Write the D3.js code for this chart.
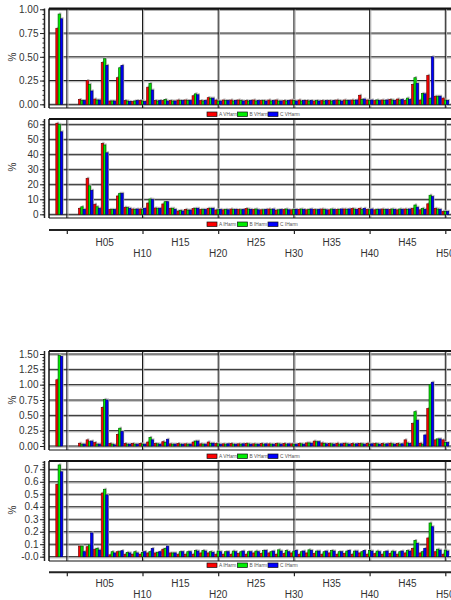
<!DOCTYPE html>
<html><head><meta charset="utf-8">
<script src="https://cdn.jsdelivr.net/npm/d3@7"></script>
<style>body{margin:0;background:#fff} svg{display:block;font-family:"Liberation Sans",Arial,sans-serif}</style>
</head><body><svg id="c" width="451" height="600"></svg>
<script>
// ---------- DATA ----------
const categories = ["THD","H02","H03","H04","H05","H06","H07","H08","H09","H10",
"H11","H12","H13","H14","H15","H16","H17","H18","H19","H20",
"H21","H22","H23","H24","H25","H26","H27","H28","H29","H30",
"H31","H32","H33","H34","H35","H36","H37","H38","H39","H40",
"H41","H42","H43","H44","H45","H46","H47","H48","H49","H50"];

const vHarmA1 = [0.80,0.05,0.25,0.055,0.44,0.035,0.28,0.04,0.03,0.04,
0.18,0.04,0.04,0.04,0.045,0.045,0.09,0.04,0.07,0.045,
0.045,0.045,0.045,0.04,0.045,0.04,0.045,0.045,0.04,0.045,
0.045,0.04,0.035,0.04,0.04,0.045,0.045,0.045,0.095,0.045,
0.04,0.045,0.05,0.055,0.04,0.21,0.045,0.305,0.085,0.065];
const vHarmB1 = [0.95,0.04,0.21,0.045,0.48,0.035,0.385,0.035,0.035,0.035,
0.22,0.035,0.05,0.035,0.04,0.04,0.11,0.035,0.065,0.035,
0.04,0.035,0.04,0.035,0.035,0.04,0.035,0.035,0.035,0.04,
0.035,0.035,0.04,0.035,0.035,0.04,0.04,0.04,0.05,0.04,
0.045,0.04,0.045,0.045,0.065,0.28,0.115,0.06,0.085,0.045];
const vHarmC1 = [0.90,0.04,0.14,0.045,0.41,0.035,0.41,0.03,0.04,0.03,
0.15,0.04,0.035,0.035,0.04,0.04,0.10,0.04,0.065,0.035,
0.04,0.04,0.035,0.04,0.04,0.035,0.04,0.035,0.04,0.035,
0.04,0.04,0.035,0.04,0.04,0.035,0.04,0.045,0.055,0.045,
0.04,0.045,0.04,0.05,0.05,0.22,0.11,0.50,0.085,0.04];

const iHarmA1 = [60.7,4,24,6.7,47.3,3.3,12.2,4.7,3.5,3.5,
7.5,4.2,6.9,4,2.2,3.3,3.8,3.3,4,2.9,
3,3.5,3.2,3.8,3.3,3,3.5,2.8,3.2,3,
3.3,3,3.2,3.5,3,3.3,3.5,3.8,4,3.3,
3,3.5,3.3,3,3.5,4,3,7,4,2];
const iHarmB1 = [60,5,19,5,46.2,3.3,14,4.5,3.3,3.3,
10.2,4,8.4,4,2.6,2.8,4,3.3,4,3,
3.3,3.2,3,3.5,3.5,3,3.2,3,3.5,3.2,
3.5,3.3,3,3.3,3.5,3.2,3.3,3.5,3.3,3,
3.3,3.2,3.5,3.5,3.3,6.2,4,12.7,3.5,2];
const iHarmC1 = [55,3.3,16,4,41,3.3,14,4,3.5,4,
10,4,8.4,3.3,2.2,2.8,4,3.3,4,3.3,
3,3.3,3.2,3.3,3,3.3,3.5,3.2,3,3.3,
3.2,3.5,3.3,3,3.3,3.5,3.5,3.3,4,3.5,
3.2,3.3,3.3,3.3,3.5,4.7,3.3,11.8,3.3,2];

const vHarmA2 = [1.08,0.045,0.10,0.055,0.63,0.04,0.19,0.04,0.04,0.04,
0.065,0.04,0.07,0.035,0.04,0.035,0.065,0.035,0.065,0.04,
0.035,0.04,0.035,0.04,0.035,0.04,0.035,0.04,0.04,0.035,
0.04,0.05,0.08,0.05,0.04,0.045,0.045,0.04,0.04,0.045,
0.04,0.04,0.045,0.04,0.10,0.37,0.045,0.61,0.10,0.10];
const vHarmB2 = [1.48,0.03,0.07,0.03,0.76,0.03,0.29,0.03,0.03,0.03,
0.14,0.035,0.055,0.03,0.03,0.03,0.08,0.03,0.045,0.035,
0.03,0.03,0.03,0.035,0.03,0.03,0.03,0.035,0.03,0.03,
0.035,0.05,0.07,0.04,0.035,0.03,0.035,0.03,0.035,0.03,
0.035,0.03,0.035,0.03,0.05,0.56,0.03,1.00,0.115,0.055];
const vHarmC2 = [1.46,0.03,0.08,0.03,0.75,0.02,0.235,0.03,0.03,0.03,
0.10,0.03,0.11,0.03,0.03,0.03,0.08,0.03,0.045,0.03,
0.035,0.03,0.035,0.03,0.03,0.035,0.03,0.03,0.035,0.03,
0.03,0.045,0.07,0.035,0.03,0.035,0.03,0.035,0.03,0.035,
0.03,0.035,0.03,0.035,0.04,0.42,0.18,1.04,0.115,0.055];

const iHarmA2 = [0.58,0.085,0.08,0.06,0.51,0.015,0.04,0.02,0.02,0.02,
0.03,0.03,0.06,0.03,0.02,0.02,0.02,0.03,0.03,0.02,
0.02,0.02,0.025,0.02,0.03,0.025,0.03,0.02,0.025,0.03,
0.02,0.03,0.025,0.02,0.03,0.02,0.025,0.02,0.03,0.02,
0.025,0.02,0.025,0.02,0.03,0.067,0.03,0.15,0.04,0.02];
const iHarmB2 = [0.735,0.085,0.095,0.067,0.54,0.04,0.04,0.035,0.04,0.035,
0.04,0.035,0.065,0.03,0.04,0.04,0.05,0.05,0.04,0.045,
0.04,0.045,0.04,0.04,0.045,0.05,0.04,0.055,0.05,0.045,
0.04,0.055,0.045,0.04,0.05,0.04,0.045,0.045,0.04,0.05,
0.045,0.04,0.045,0.04,0.05,0.13,0.04,0.27,0.06,0.053];
const iHarmC2 = [0.68,0.04,0.19,0.053,0.495,0.03,0.048,0.03,0.03,0.04,
0.066,0.04,0.085,0.03,0.04,0.04,0.045,0.045,0.035,0.04,
0.04,0.04,0.045,0.04,0.04,0.05,0.045,0.045,0.04,0.05,
0.045,0.05,0.045,0.045,0.045,0.04,0.05,0.045,0.05,0.045,
0.04,0.045,0.04,0.045,0.045,0.107,0.067,0.24,0.053,0.045];

const vLegend = ["A VHarm","B VHarm","C VHarm"];
const iLegend = ["A IHarm","B IHarm","C IHarm"];
const ticksV1 = [0,0.25,0.5,0.75,1.0];
const ticksI1 = [0,10,20,30,40,50,60];
const ticksV2 = [0,0.25,0.5,0.75,1.0,1.25,1.5];
const ticksI2 = [0,0.1,0.2,0.3,0.4,0.5,0.6,0.7];
const xTickHarm = [0,10,20,30,40,50];
const xLabelsRow1 = ["H05","H15","H25","H35","H45"];
const xLabelsRow2 = ["H10","H20","H30","H40","H50"];

// ---------- LAYOUT ----------
const svg = d3.select("#c");
const plotLeft = 49, plotRight = 451;
const x = d3.scaleLinear().domain([0, 50]).range([66.8, 445.3]);
const slot = c => c === "THD" ? -1 : +c.slice(1);
const phase = d3.scaleBand().domain([0,1,2]).range([-3.4, 3.4]).padding(0);
const fills = ["#ff0000","#00ee00","#0000ff"];
const strokes = ["#7a0000","#006000","#00007a"];

const panels = [
  {vals:[vHarmA1,vHarmB1,vHarmC1], legend:vLegend, top:8.5, bottom:108, y0:104.3, yT:9.3, tMax:1.0, ticks:ticksV1, fmt:d3.format(".2f"), minor:0.05, legY:114, labY:57},
  {vals:[iHarmA1,iHarmB1,iHarmC1], legend:iLegend, top:119, bottom:218, y0:214.3, yT:124.3, tMax:60, ticks:ticksI1, fmt:d3.format("d"), minor:2, legY:224, labY:167},
  {vals:[vHarmA2,vHarmB2,vHarmC2], legend:vLegend, top:351, bottom:450, y0:446, yT:354, tMax:1.5, ticks:ticksV2, fmt:d3.format(".2f"), minor:0.05, legY:456, labY:400},
  {vals:[iHarmA2,iHarmB2,iHarmC2], legend:iLegend, top:461, bottom:561, y0:556.7, yT:469.3, tMax:0.7, ticks:ticksI2, fmt:(d => d === 0 ? "-0.0" : d3.format(".1f")(d)), minor:0.02, legY:565, labY:510}
];

panels.forEach(p => {
  const y = d3.scaleLinear().domain([0, p.tMax]).range([p.y0, p.yT]);
  const g = svg.append("g");
  // horizontal gridlines (with grey shadow)
  g.selectAll(".hgs").data(p.ticks).join("line")
    .attr("x1", plotLeft).attr("x2", plotRight)
    .attr("y1", d => y(d) + 1.2).attr("y2", d => y(d) + 1.2)
    .attr("stroke", "#b0b0b0").attr("stroke-width", 1);
  g.selectAll(".hg").data(p.ticks).join("line")
    .attr("x1", plotLeft).attr("x2", plotRight)
    .attr("y1", d => y(d)).attr("y2", d => y(d))
    .attr("stroke", "#1a1a1a").attr("stroke-width", 1);
  // vertical gridlines
  g.selectAll(".vgs").data(xTickHarm).join("line")
    .attr("x1", d => x(d) + 1.2).attr("x2", d => x(d) + 1.2)
    .attr("y1", p.top).attr("y2", p.bottom)
    .attr("stroke", "#b0b0b0").attr("stroke-width", 1);
  g.selectAll(".vg").data(xTickHarm).join("line")
    .attr("x1", d => x(d)).attr("x2", d => x(d))
    .attr("y1", p.top).attr("y2", p.bottom)
    .attr("stroke", "#1a1a1a").attr("stroke-width", 1);

  // bars: shadows first
  p.vals.forEach((arr, k) => {
    g.append("g").selectAll("rect").data(arr).join("rect")
      .attr("x", (d, i) => x(slot(categories[i])) + phase(k) + 1)
      .attr("y", d => y(d) - 1.5)
      .attr("width", phase.bandwidth())
      .attr("height", d => Math.max(0, y(0) - y(d)))
      .attr("fill", "#b8b8b8");
  });
  p.vals.forEach((arr, k) => {
    g.append("g").selectAll("rect").data(arr).join("rect")
      .attr("x", (d, i) => x(slot(categories[i])) + phase(k))
      .attr("y", d => y(d))
      .attr("width", phase.bandwidth())
      .attr("height", d => Math.max(0.5, y(0) - y(d)))
      .attr("fill", fills[k]).attr("stroke", strokes[k]).attr("stroke-width", 0.7);
  });

  // frame
  g.append("line").attr("x1", plotLeft).attr("x2", plotRight).attr("y1", p.top).attr("y2", p.top)
    .attr("stroke", "#111").attr("stroke-width", 2);
  g.append("line").attr("x1", plotLeft).attr("x2", plotRight).attr("y1", p.bottom).attr("y2", p.bottom)
    .attr("stroke", "#111").attr("stroke-width", 1.2);
  g.append("line").attr("x1", plotLeft).attr("x2", plotLeft).attr("y1", p.top).attr("y2", p.bottom)
    .attr("stroke", "#111").attr("stroke-width", 1.5);

  // y axis
  const ax = g.append("g").attr("transform", "translate(44.5,0)");
  const minorVals = d3.range(0, y.invert(p.top) + 1e-9, p.minor).filter(v => y(v) >= p.top && y(v) <= p.bottom);
  ax.append("g").call(d3.axisLeft(y).tickValues(minorVals).tickSize(2).tickFormat(""))
    .call(s => s.select(".domain").remove())
    .selectAll("line").attr("stroke", "#222");
  const maj = ax.append("g").call(d3.axisLeft(y).tickValues(p.ticks).tickSize(4.5).tickPadding(1.5).tickFormat(p.fmt));
  maj.select(".domain").remove();
  maj.selectAll("line").attr("stroke", "#222");
  maj.selectAll("text").attr("font-size", "10px").attr("fill", "#333")
    .attr("font-family", "'Liberation Sans',Arial,sans-serif");
  ax.append("line").attr("x1", 0).attr("x2", 0).attr("y1", p.top).attr("y2", p.bottom)
    .attr("stroke", "#222").attr("stroke-width", 1.5);

  // y title
  svg.append("text").attr("transform", `translate(16,${p.labY}) rotate(-90)`)
    .attr("text-anchor", "middle").attr("font-size", "10px").attr("fill", "#333").text("%");

  // legend
  const leg = svg.append("g").attr("transform", `translate(207,${p.legY})`);
  const legX = d3.scalePoint().domain([0,1,2]).range([0, 61]);
  p.legend.forEach((name, k) => {
    leg.append("rect").attr("x", legX(k)).attr("y", -2).attr("width", 10).attr("height", 4.5)
      .attr("fill", fills[k]).attr("stroke", "#111").attr("stroke-width", 0.7);
    leg.append("text").attr("x", legX(k) + 12).attr("y", 1.8)
      .attr("font-size", "4.8px").attr("fill", "#555").text(name);
  });
});

// x axes (one per pair)
[{y:230, r1:245.5, r2:256.5}, {y:572.3, r1:586.5, r2:598}].forEach(a => {
  const g = svg.append("g").attr("transform", `translate(0,${a.y})`);
  g.call(d3.axisBottom(x).tickValues(xTickHarm).tickSize(4).tickFormat(""))
    .call(s => s.select(".domain").remove())
    .selectAll("line").attr("stroke", "#222").attr("stroke-width", 1.2);
  g.append("line").attr("x1", plotLeft).attr("x2", plotRight).attr("y1", 0).attr("y2", 0)
    .attr("stroke", "#222").attr("stroke-width", 2);
  svg.append("g").selectAll("text").data(xLabelsRow1).join("text")
    .attr("x", d => x(slot(d))).attr("y", a.r1).attr("text-anchor", "middle")
    .attr("font-size", "10px").attr("fill", "#333").text(d => d);
  svg.append("g").selectAll("text").data(xLabelsRow2).join("text")
    .attr("x", d => x(slot(d))).attr("y", a.r2).attr("text-anchor", "middle")
    .attr("font-size", "10px").attr("fill", "#333").text(d => d);
});
</script></body></html>
